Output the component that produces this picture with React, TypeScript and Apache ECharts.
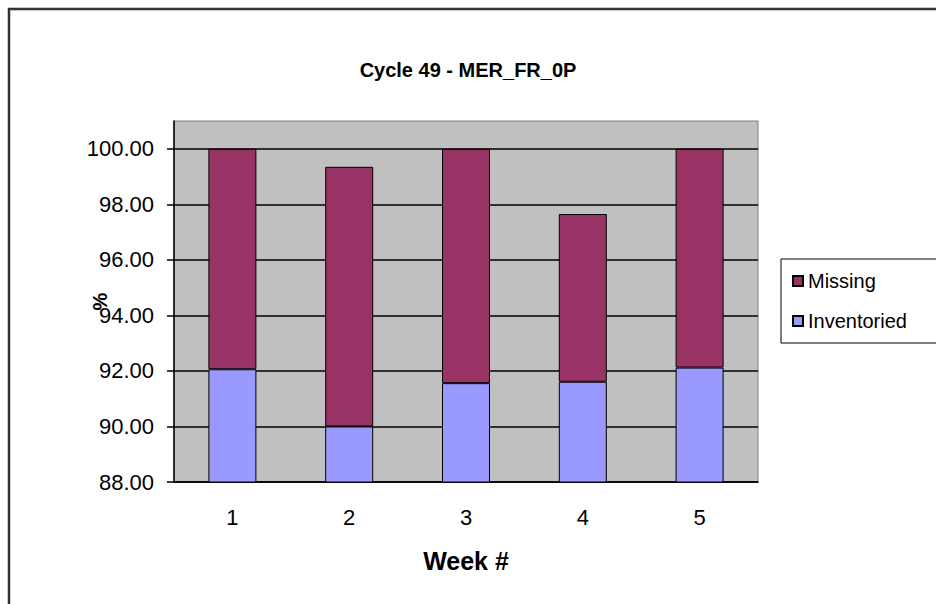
import React, { useEffect, useRef } from "react";
import * as echarts from "echarts";

const weeks = ["1", "2", "3", "4", "5"];
const inventoried = [92.06, 90.0, 91.56, 91.61, 92.12];
const missing = [7.94, 9.35, 8.44, 6.04, 7.88];
const yTicks = [88, 90, 92, 94, 96, 98, 100];

const FONT = "'Liberation Sans', Arial, sans-serif";

export default function App() {
  const ref = useRef<HTMLDivElement>(null);
  useEffect(() => {
    if (!ref.current) return;
    const chart = echarts.init(ref.current, null, { renderer: "svg" });
    chart.setOption({
      animation: false,
      backgroundColor: "#ffffff",
      textStyle: { fontFamily: FONT },
      title: {
        text: "Cycle 49 - MER_FR_0P",
        left: "center",
        top: 55,
        textStyle: { fontFamily: FONT, fontSize: 20, fontWeight: "bold", color: "#000" },
      },
      legend: {
        data: ["Missing", "Inventoried"],
        orient: "vertical",
        left: 781,
        top: 259,
        padding: [12, 30, 12, 11],
        itemGap: 20,
        itemWidth: 10,
        itemHeight: 10,
        borderColor: "#000",
        borderWidth: 1,
        backgroundColor: "#fff",
        icon: "rect",
        textStyle: { fontFamily: FONT, fontSize: 20, color: "#000" },
      },
      grid: {
        left: 174,
        right: 178,
        top: 121,
        bottom: 122,
        show: true,
        backgroundColor: "#C0C0C0",
        borderColor: "#808080",
        borderWidth: 1,
      },
      xAxis: {
        type: "category",
        data: weeks,
        name: "Week #",
        nameLocation: "middle",
        nameGap: 66,
        nameMoveOverlap: false,
        nameTextStyle: { fontFamily: FONT, fontSize: 25, fontWeight: "bold", color: "#000" },
        axisLine: { lineStyle: { color: "#000", width: 1.5 } },
        axisTick: { length: 7, lineStyle: { color: "#000", width: 1.5 } },
        axisLabel: { margin: 24, fontSize: 22, color: "#000", fontFamily: FONT },
        splitLine: { show: false },
      },
      yAxis: {
        type: "value",
        min: 88,
        max: 101,
        interval: 2,
        name: "%",
        nameLocation: "middle",
        nameGap: 64,
        nameMoveOverlap: false,
        nameTextStyle: { fontFamily: FONT, fontSize: 20, fontWeight: "bold", color: "#000" },
        axisLine: { show: true, lineStyle: { color: "#000", width: 1.5 } },
        axisTick: {
          show: true,
          length: 7,
          customValues: yTicks,
          lineStyle: { color: "#000", width: 1.5 },
        },
        axisLabel: {
          margin: 20,
          fontSize: 22,
          color: "#000",
          fontFamily: FONT,
          customValues: yTicks,
          formatter: (v: number) => v.toFixed(2),
        },
        splitLine: {
          show: true,
          lineStyle: { color: "#000", width: 1.5 },
        },
      },
      graphic: [
        {
          type: "rect",
          silent: true,
          z: -10,
          shape: { x: 9, y: 9, width: 1000, height: 700 },
          style: { fill: "none", stroke: "#333", lineWidth: 2.5 },
        },
      ],
      series: [
        {
          name: "Inventoried",
          type: "bar",
          stack: "total",
          data: inventoried,
          barWidth: 48,
          itemStyle: { color: "#9999FF", borderColor: "#000", borderWidth: 1 },
        },
        {
          name: "Missing",
          type: "bar",
          stack: "total",
          data: missing,
          barWidth: 48,
          itemStyle: { color: "#993366", borderColor: "#000", borderWidth: 1 },
        },
      ],
    });
    return () => chart.dispose();
  }, []);
  return (
    <div
      ref={ref}
      style={{ position: "fixed", left: 0, top: 0, width: 936, height: 604 }}
    />
  );
}
